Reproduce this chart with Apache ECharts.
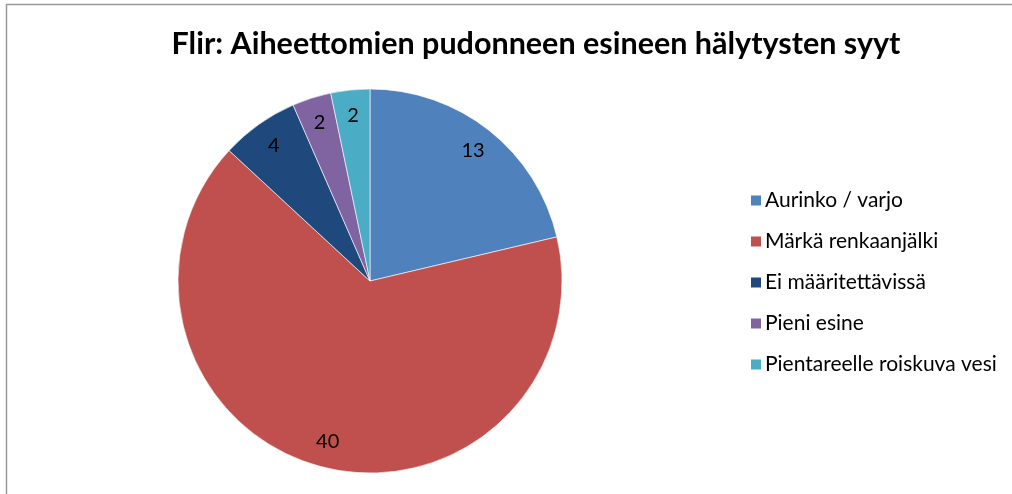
<!DOCTYPE html>
<html>
<head>
<meta charset="utf-8">
<script src="https://cdn.jsdelivr.net/npm/echarts@6/dist/echarts.min.js"></script>
<style>
  html, body { margin: 0; padding: 0; background: #fff; }
  #main { width: 1012px; height: 494px; }
</style>
</head>
<body>
<div id="main"></div>
<script>
// data
var titleText = 'Flir: Aiheettomien pudonneen esineen hälytysten syyt';
var categories = ['Aurinko / varjo', 'Märkä renkaanjälki', 'Ei määritettävissä', 'Pieni esine', 'Pientareelle roiskuva vesi'];
var values = [13, 40, 4, 2, 2];
var colors = ['#4F81BD', '#C0504D', '#1F497D', '#8064A2', '#4BACC6'];

(function () {
  var myChart = echarts.init(document.getElementById('main'));

  var pieData = categories.map(function (name, i) {
    return { name: name, value: values[i], itemStyle: { color: colors[i] } };
  });
  // transparent ring only to place the value labels further out
  var labelData = categories.map(function (name, i) {
    return { name: name, value: values[i] };
  });

  var option = {
    animation: false,
    color: colors,
    title: {
      text: titleText,
      left: 531,
      top: 24,
      textAlign: 'center',
      textStyle: {
        fontFamily: 'Lato',
        fontWeight: 'bold',
        fontSize: 30.5,
        color: '#000'
      }
    },
    legend: {
      orient: 'vertical',
      left: 744,
      top: 185,
      itemWidth: 12,
      itemHeight: 12,
      itemGap: 20,
      icon: 'rect',
      textStyle: {
        fontFamily: 'Lato',
        fontSize: 21,
        color: '#000',
        padding: [0, 0, 0, -2]
      },
      data: categories
    },
    graphic: [
      { type: 'line', shape: { x1: 6, y1: 4.5, x2: 1012, y2: 4.5 }, style: { stroke: '#9a9a9a', lineWidth: 1.5 } },
      { type: 'line', shape: { x1: 6.5, y1: 4, x2: 6.5, y2: 494 }, style: { stroke: '#9a9a9a', lineWidth: 1.5 } }
    ],
    series: [
      {
        type: 'pie',
        center: [370, 281],
        radius: [0, 192],
        startAngle: 90,
        clockwise: true,
        silent: true,
        label: { show: false },
        labelLine: { show: false },
        itemStyle: { borderColor: '#ffffff', borderWidth: 0.6 },
        data: pieData
      },
      {
        type: 'pie',
        center: [370, 281],
        radius: [134, 192],
        startAngle: 90,
        clockwise: true,
        silent: true,
        itemStyle: { color: 'rgba(0,0,0,0)' },
        label: {
          show: true,
          position: 'inside',
          formatter: '{c}',
          fontFamily: 'Lato',
          fontSize: 20,
          color: '#000'
        },
        labelLine: { show: false },
        data: labelData
      }
    ]
  };

  if (option && typeof option === 'object') {
    myChart.setOption(option);
  }
  window.addEventListener('resize', myChart.resize);
})();
</script>
</body>
</html>
